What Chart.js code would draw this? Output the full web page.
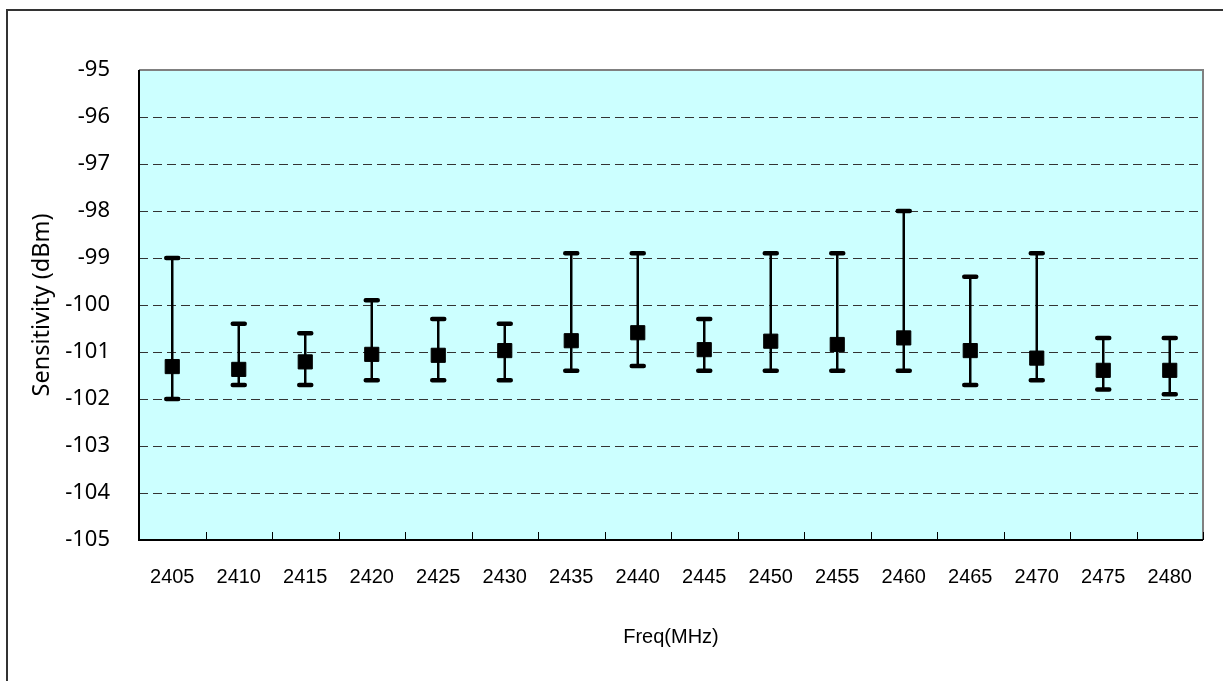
<!DOCTYPE html>
<html>
<head>
<meta charset="utf-8">
<script src="https://cdn.jsdelivr.net/npm/chart.js@4.4.1/dist/chart.umd.min.js"></script>
<style>
    html, body { margin: 0; padding: 0; background: #fff; overflow: hidden; }
    #wrap { position: relative; width: 1223px; height: 681px; }
    #frame {
        position: absolute; left: 6px; top: 9px; width: 1400px; height: 800px;
        border-top: 2px solid #333; border-left: 2px solid #333;
    }
    canvas { position: absolute; left: 0; top: 0; }
</style>
</head>
<body>
<div id="wrap">
    <div id="frame"></div>
    <canvas id="sensChart" width="1223" height="681"></canvas>
</div>
<script>
// Channel frequencies (MHz)
const categories = ['2405', '2410', '2415', '2420', '2425', '2430', '2435', '2440',
                    '2445', '2450', '2455', '2460', '2465', '2470', '2475', '2480'];
// Average sensitivity per channel (dBm)
const avgValues = [-101.31, -101.37, -101.21, -101.05, -101.07, -100.97, -100.76, -100.59,
                   -100.95, -100.77, -100.84, -100.70, -100.97, -101.13, -101.39, -101.39];
// Error bar upper ends (best sensitivity)
const maxValues = [-99.0, -100.4, -100.6, -99.9, -100.3, -100.4, -98.9, -98.9,
                   -100.3, -98.9, -98.9, -98.0, -99.4, -98.9, -100.7, -100.7];
// Error bar lower ends (worst sensitivity)
const minValues = [-102.0, -101.7, -101.7, -101.6, -101.6, -101.6, -101.4, -101.3,
                   -101.4, -101.4, -101.4, -101.4, -101.7, -101.6, -101.8, -101.9];
// Y axis tick labels
const yTicks = [-95, -96, -97, -98, -99, -100, -101, -102, -103, -104, -105];

// Plot background + frame + x tick marks
const plotDecor = {
    id: 'plotDecor',
    beforeDraw(chart) {
        const { ctx, chartArea: a } = chart;
        ctx.save();
        ctx.fillStyle = '#CCFFFF';
        ctx.fillRect(a.left, a.top, a.right - a.left, a.bottom - a.top);
        ctx.restore();
    },
    afterDraw(chart) {
        const { ctx, chartArea: a, scales } = chart;
        ctx.save();
        // gray top & right edge
        ctx.strokeStyle = '#808080';
        ctx.lineWidth = 2;
        ctx.beginPath();
        ctx.moveTo(a.left, a.top);
        ctx.lineTo(a.right, a.top);
        ctx.lineTo(a.right, a.bottom);
        ctx.stroke();
        // black left & bottom axis
        ctx.strokeStyle = '#000';
        ctx.beginPath();
        ctx.moveTo(a.left, a.top);
        ctx.lineTo(a.left, a.bottom);
        ctx.lineTo(a.right, a.bottom);
        ctx.stroke();
        // inward tick marks between categories
        const x = scales.x;
        const half = (x.getPixelForValue(1) - x.getPixelForValue(0)) / 2;
        ctx.lineWidth = 1;
        ctx.beginPath();
        for (let i = 0; i <= categories.length; i++) {
            const px = Math.round(x.getPixelForValue(i) - half) + 0.5;
            ctx.moveTo(px, a.bottom);
            ctx.lineTo(px, a.bottom - 8);
        }
        ctx.stroke();
        ctx.restore();
    }
};

// Error bars drawn below the markers
const errorBars = {
    id: 'errorBars',
    beforeDatasetsDraw(chart) {
        const { ctx, scales } = chart;
        ctx.save();
        ctx.strokeStyle = '#000';
        categories.forEach((c, i) => {
            const px = scales.x.getPixelForValue(i);
            const yTop = scales.y.getPixelForValue(maxValues[i]);
            const yBot = scales.y.getPixelForValue(minValues[i]);
            ctx.lineWidth = 2.5;
            ctx.lineCap = 'butt';
            ctx.beginPath();
            ctx.moveTo(px, yTop);
            ctx.lineTo(px, yBot);
            ctx.stroke();
            ctx.lineWidth = 4.5;
            ctx.lineCap = 'round';
            ctx.beginPath();
            ctx.moveTo(px - 6, yTop);
            ctx.lineTo(px + 6, yTop);
            ctx.moveTo(px - 6, yBot);
            ctx.lineTo(px + 6, yBot);
            ctx.stroke();
        });
        ctx.restore();
    }
};

const ctx = document.getElementById('sensChart').getContext('2d');

new Chart(ctx, {
    type: 'line',
    data: {
        labels: categories,
        datasets: [{
            label: 'Sensitivity',
            data: avgValues,
            showLine: false,
            pointStyle: 'rect',
            pointRadius: 10,
            pointHoverRadius: 10,
            pointBackgroundColor: '#000',
            pointBorderColor: '#000',
            pointBorderWidth: 1
        }]
    },
    plugins: [plotDecor, errorBars],
    options: {
        responsive: false,
        devicePixelRatio: 1,
        animation: false,
        events: [],
        layout: { padding: { top: 70, right: 20, left: 0, bottom: 0 } },
        plugins: {
            legend: { display: false },
            tooltip: { enabled: false }
        },
        scales: {
            x: {
                offset: true,
                grid: { display: false, drawTicks: false },
                border: { display: false },
                ticks: {
                    color: '#000',
                    padding: 25,
                    maxRotation: 0,
                    autoSkip: false,
                    font: { family: 'Liberation Sans', size: 20 }
                },
                title: {
                    display: true,
                    text: 'Freq(MHz)',
                    color: '#000',
                    padding: { top: 0, bottom: 32 },
                    font: { family: 'Liberation Sans', size: 20 }
                },
                afterFit(scale) { scale.height = 141; }
            },
            y: {
                min: -105,
                max: -95,
                afterBuildTicks(scale) {
                    scale.ticks = yTicks.map(v => ({ value: v }));
                },
                grid: {
                    drawTicks: false,
                    color: c => (c.tick && (c.tick.value === -95 || c.tick.value === -105)) ? 'rgba(0,0,0,0)' : '#333',
                    lineWidth: 1
                },
                border: { display: false, dash: [9, 5] },
                ticks: {
                    color: '#000',
                    padding: 29,
                    font: { family: 'Noto Sans', size: 22 }
                },
                title: {
                    display: true,
                    text: 'Sensitivity (dBm)',
                    color: '#000',
                    padding: { top: 28, bottom: 0 },
                    font: { family: 'Noto Sans', size: 23.5 }
                },
                afterFit(scale) { scale.width = 139; }
            }
        }
    }
});
</script>
</body>
</html>
